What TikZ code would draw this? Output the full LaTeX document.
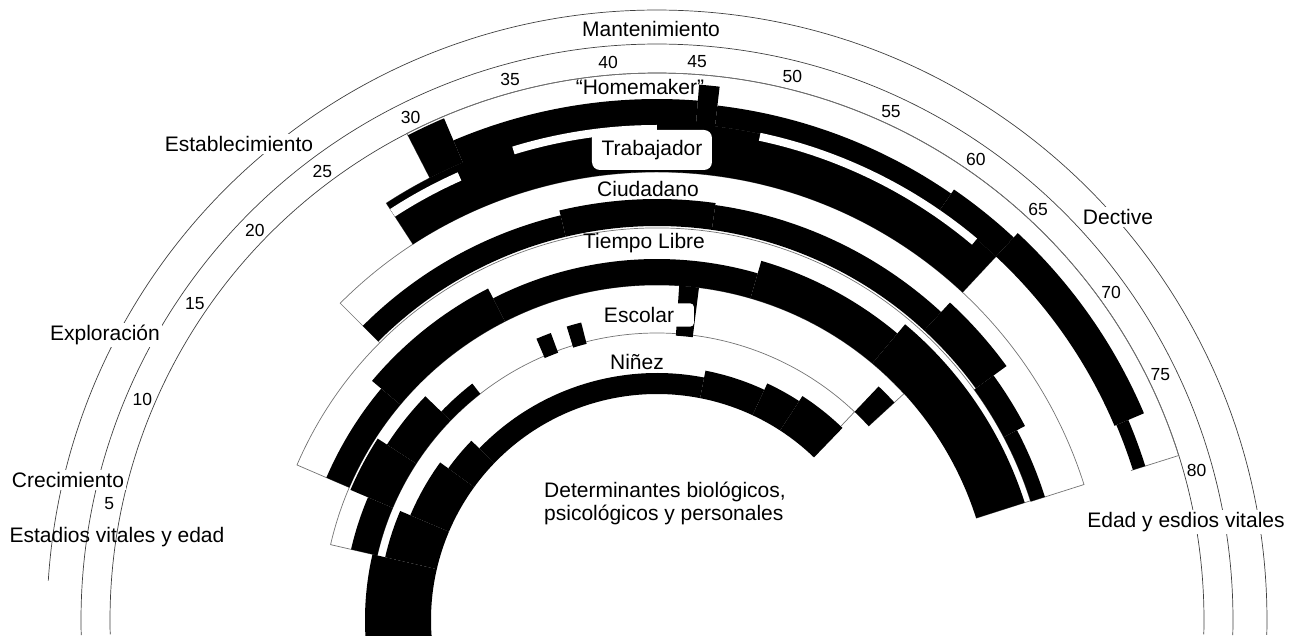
\documentclass[tikz,border=0pt]{standalone}
\usepackage{fontspec}
\setmainfont{Liberation Sans}

% filled ring piece: style, from angle, to angle, inner r, outer r
\newcommand{\ringpiece}[5]{%
  \fill[#1] (#2:#4) arc[start angle=#2, end angle=#3, radius=#4pt]
    -- (#3:#5) arc[start angle=#3, end angle=#2, radius=#5pt] -- cycle;}
% open outline of a role band: from angle, to angle, inner r, outer r
\newcommand{\bandframe}[4]{%
  \draw[roleframe] (#1:#3) -- (#1:#4) arc[start angle=#1, end angle=#2, radius=#4pt] -- (#2:#3);}

\begin{document}
\begin{tikzpicture}[x=1pt, y=1pt,
  ageline/.style={draw=black!75, line width=0.7pt},
  roleframe/.style={draw=black!55, line width=0.7pt},
  ink/.style={black},
  gap/.style={white},
  stagelabel/.style={fill=white, inner sep=2pt, font=\fontsize{21}{23}\selectfont},
  rolelabel/.style={inner sep=1pt, font=\fontsize{21}{23}\selectfont},
  agelabel/.style={inner sep=0pt, font=\fontsize{17.5}{19}\selectfont}]
  \useasboundingbox (-657,-15) rectangle (636,620);

  % age and stage arcs
  \draw[ageline] (-1.5:547) arc[start angle=-1.5, end angle=181.5, radius=547pt];
  \draw[ageline] (-1.5:576) arc[start angle=-1.5, end angle=181.5, radius=576pt];
  \draw[ageline] (-1.4:610) arc[start angle=-1.4, end angle=176.3, radius=610pt];

  % role bands
  \bandframe{184}{46.5}{226}{287}
  \bandframe{167}{42.5}{287}{335}
  \bandframe{156.7}{17.7}{335}{392}
  \bandframe{135}{17.6}{392}{448}
  \bandframe{123}{47}{448}{497}
  \bandframe{117.2}{17.5}{497}{547}

  % Niñez
  \foreach \a/\b/\r/\s in {184/167/226/292, 167/157/226/279, 157/144/226/268,
      144/136/226/258, 136/79/226/247, 79/65/226/254, 65/57/226/261, 57/46/226/267}
    {\ringpiece{ink}{\a}{\b}{\r}{\s}}
  % Escolar
  \foreach \a/\b/\r/\s in {167/157/287/314, 157/147/287/333, 147/136/287/322,
      136/128/287/300, 113.2/110.3/285/306, 107.1/104.3/285/307,
      86.2/82.8/285/335, 46.5/42.5/287/322}
    {\ringpiece{ink}{\a}{\b}{\r}{\s}}
  % Tiempo Libre
  \foreach \a/\b/\r/\s in {156.7/140/335/360, 140/117/335/372, 117/73.8/335/361,
      73.8/50/335/374, 50/17.7/335/386}
    {\ringpiece{ink}{\a}{\b}{\r}{\s}}
  % Ciudadano
  \foreach \a/\b/\r/\s in {135/103.4/394/416, 103.4/82/394/421, 82/47.3/394/419,
      47.3/36/394/432, 36/27.8/392/416, 27.8/17.6/392/407}
    {\ringpiece{ink}{\a}{\b}{\r}{\s}}
  % Trabajador
  \ringpiece{ink}{123}{47}{448}{497}
  % Homemaker
  \foreach \a/\b/\r/\s in {117.2/113/497/545, 113/85.5/495/521, 85.5/83.3/495/537,
      83.3/55.4/497/518, 55.4/47/497/523, 47/23/497/529, 23/17.5/499/512}
    {\ringpiece{ink}{\a}{\b}{\r}{\s}}
  % white slits between Homemaker and Trabajador
  \foreach \a/\b/\r/\s in {123/114/481/490, 107/90/487/495, 78/50/490/498}
    {\ringpiece{gap}{\a}{\b}{\r}{\s}}

  % role labels
  \node[rolelabel] (home) at (-17,533) {``Homemaker''};
  \node[rolelabel, fill=white, rounded corners=8pt, minimum width=120pt,
        minimum height=40pt] (trab) at (-5,470) {Trabajador};
  \node[rolelabel] (ciud) at (-9,431) {Ciudadano};
  \node[rolelabel] (ocio) at (-13,377) {Tiempo Libre};
  \node[rolelabel, fill=white, rounded corners=4pt, text width=86pt, align=left,
        inner sep=4pt] (esc) at (-10,305) {Escolar};
  \node[rolelabel] (nin) at (-20,258) {Niñez};
  \node[rolelabel, align=left] (det) at (8,117)
    {Determinantes biológicos,\\psicológicos y personales};

  % stages
  \node[stagelabel] (mant) at (-6,591) {Mantenimiento};
  \node[stagelabel] (estab) at (-418,476) {Establecimiento};
  \node[stagelabel] (explo) at (-552,285) {Exploración};
  \node[stagelabel] (crec) at (-589,140) {Crecimiento};
  \node[stagelabel] (dect) at (461,403) {Dective};
  \node[rolelabel] (estl) at (-540,83) {Estadios vitales y edad};
  \node[stagelabel] (estr) at (529,98) {Edad y esdios vitales};

  % ages
  \foreach \n/\t in {5/168, 10/156.8, 15/145.6, 20/135.9, 25/126.7, 30/116.1,
      35/105.2, 40/95, 45/85.9, 50/76, 55/65.3, 60/55.3, 65/47.1, 70/35.8,
      75/26, 80/15.5}
    \node[agelabel] (age\n) at (\t:560) {\n};
\end{tikzpicture}
\end{document}
